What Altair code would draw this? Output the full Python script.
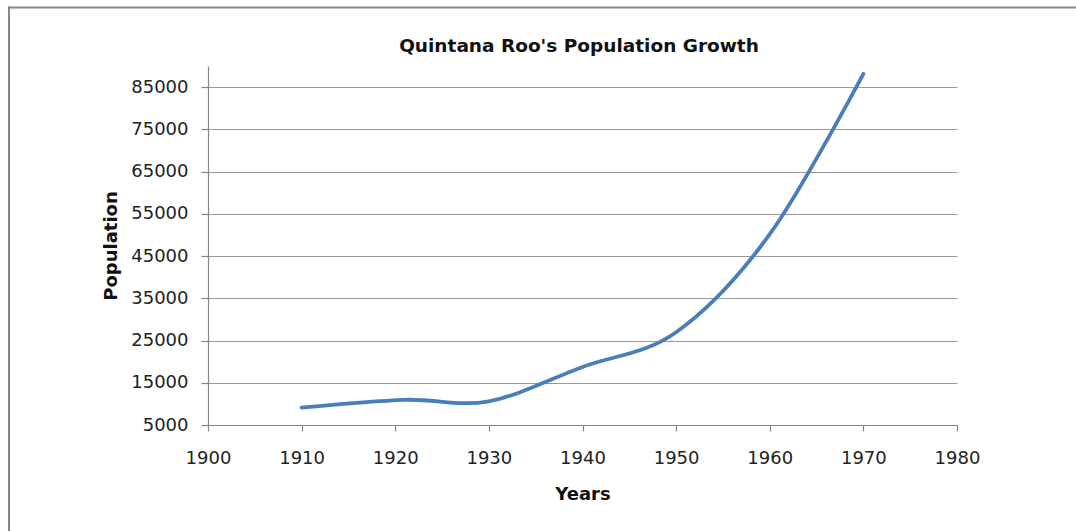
import altair as alt
import pandas as pd

years = [1910, 1921, 1930, 1940, 1950, 1960, 1970]
population = [9109, 10966, 10620, 18752, 26967, 50169, 88150]
y_ticks = [5000, 15000, 25000, 35000, 45000, 55000, 65000, 75000, 85000]
x_ticks = [1900, 1910, 1920, 1930, 1940, 1950, 1960, 1970, 1980]
title_text = "Quintana Roo's Population Growth"

df = pd.DataFrame({"Year": years, "Population": population})

FONT = "DejaVu Sans"
GRAY = "#868686"

line = alt.Chart(df).mark_line(
    color="#4a7ebb", strokeWidth=3.8, interpolate="cardinal", tension=0, strokeCap="round"
).encode(
    x=alt.X("Year:Q",
            scale=alt.Scale(domain=[1900, 1980], nice=False, zero=False),
            axis=alt.Axis(values=x_ticks, format="d", grid=False, title="Years",
                          tickSize=6, labelPadding=18, domainColor=GRAY, tickColor=GRAY,
                          labelFlush=False, labelOverlap=False,
                          titleY=74, titleBaseline="alphabetic")),
    y=alt.Y("Population:Q",
            scale=alt.Scale(domain=[5000, 90000], nice=False, zero=False),
            axis=alt.Axis(values=y_ticks, format="d", grid=True, title="Population",
                          tickSize=7, labelPadding=13, domainColor=GRAY, tickColor=GRAY,
                          labelFlush=False, labelOverlap=False,
                          gridColor="#999999", titleX=-92, titleY=179.5,
                          titleBaseline="alphabetic", titleAngle=-90, titleAlign="center")),
)

frame_df = pd.DataFrame({"k": [0]})
top_border = alt.Chart(frame_df).mark_rule(color=GRAY, strokeWidth=2).encode(
    x=alt.value(-200), x2=alt.value(870), y=alt.value(-58.5)
)
left_border = alt.Chart(frame_df).mark_rule(color=GRAY, strokeWidth=2).encode(
    x=alt.value(-199), y=alt.value(-59.5), y2=alt.value(470)
)
title = alt.Chart(frame_df).mark_text(
    text=title_text, font=FONT, fontSize=18.5, fontWeight="bold", color="#111111",
    align="center", baseline="alphabetic"
).encode(x=alt.value(371), y=alt.value(-14))

chart = alt.layer(line, top_border, left_border, title).properties(
    width=749,
    height=359,
    autosize=alt.AutoSizeParams(type="none"),
    padding={"left": 208, "top": 66, "right": 119, "bottom": 106},
    background="white",
).configure_axis(
    labelFont=FONT, labelFontSize=18, labelColor="#222222",
    titleFont=FONT, titleFontSize=18, titleFontWeight="bold", titleColor="#111111",
    domainWidth=1.2, tickWidth=1.2, gridWidth=1.2,
).configure_view(stroke=None)

chart.save("out.html", embed_options={"renderer": "svg", "actions": False})
